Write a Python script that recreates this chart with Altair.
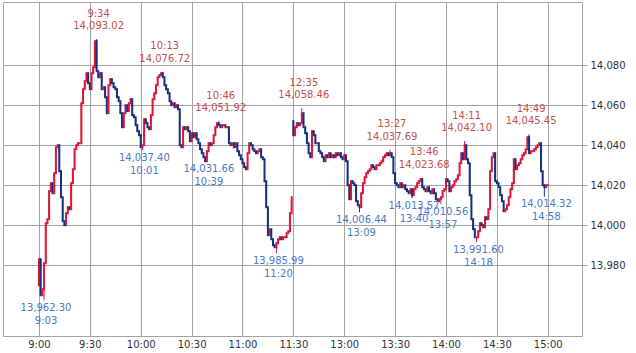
import altair as alt
import pandas as pd

# ---- data (1-minute closes; morning 9:00-11:29, afternoon 12:30-15:00) ----
am_first_open = 13970
am_close = [
    13983, 13965, 13968, 13981, 14001, 14003, 14017, 14021, 14016, 14026,
    14039, 14040, 14027, 14014, 14002, 14000, 14006, 14009, 14008, 14021,
    14028, 14038, 14040, 14041, 14041, 14061, 14068, 14072, 14076, 14071,
    14068, 14076, 14079, 14092, 14077, 14074, 14076, 14068, 14069, 14064,
    14056, 14070, 14073, 14071, 14069, 14068, 14064, 14062, 14056, 14049,
    14056, 14060, 14057, 14061, 14063, 14055, 14054, 14050, 14047, 14045,
    14039, 14040, 14053, 14051, 14049, 14048, 14055, 14063, 14066, 14070,
    14074, 14075, 14076, 14074, 14070, 14068, 14066, 14062, 14060, 14061,
    14059, 14060, 14058, 14040, 14039, 14049, 14048, 14049, 14047, 14042,
    14046, 14044, 14046, 14043, 14041, 14038, 14036, 14034, 14032, 14037,
    14041, 14040, 14041, 14045, 14049, 14051, 14050, 14049, 14050, 14050,
    14049, 14049, 14041, 14040, 14041, 14039, 14041, 14037, 14035, 14033,
    14031, 14029, 14028, 14036, 14041, 14040, 14038, 14037, 14036, 14037,
    14038, 14034, 14033, 14022, 14009, 13995, 13998, 13993, 13990, 13989,
    13991, 13993, 13994, 13993, 13994, 13994, 13996, 13997, 14006, 14014,
]
pm_first_open = 14052
pm_close = [
    14045, 14049, 14051, 14050, 14051, 14056, 14049, 14046, 14041, 14036,
    14034, 14047, 14045, 14041, 14041, 14037, 14036, 14034, 14032, 14035,
    14034, 14036, 14034, 14035, 14034, 14036, 14035, 14036, 14034, 14033,
    14035, 14032, 14020, 14013, 14022, 14021, 14020, 14012, 14010, 14009,
    14016, 14021, 14024, 14026, 14027, 14028, 14030, 14029, 14028, 14030,
    14030, 14031, 14032, 14034, 14035, 14036, 14035, 14036, 14034, 14026,
    14021, 14020, 14019, 14021, 14019, 14020, 14018, 14017, 14016, 14018,
    14015, 14018, 14019, 14021, 14022, 14023, 14019, 14018, 14017, 14019,
    14017, 14016, 14018, 14016, 14013, 14012, 14013, 14014, 14017, 14018,
    14023, 14022, 14017, 14019, 14020, 14022, 14023, 14025, 14031, 14036,
    14033, 14040, 14033, 14031, 14015, 14003, 13998, 13994, 13994, 13997,
    14001, 14000, 13999, 14004, 14003, 14008, 14027, 14034, 14036, 14022,
    14021, 14019, 14015, 14012, 14007, 14008, 14010, 14014, 14018, 14021,
    14033, 14028, 14030, 14031, 14033, 14035, 14036, 14038, 14044, 14036,
    14037, 14037, 14038, 14039, 14040, 14041, 14027, 14020, 14019, 14020,
    14020,
]

hi_time = ["9:34", "10:13", "10:46", "12:35", "13:27", "13:46", "14:11", "14:49"]
hi_value = [14093.02, 14076.72, 14051.92, 14058.46, 14037.69, 14023.68, 14042.10, 14045.45]
hi_minute = [34, 73, 106, 155, 207, 226, 251, 289]

lo_time = ["9:03", "10:01", "10:39", "11:20", "13:09", "13:40", "13:57", "14:18", "14:58"]
lo_value = [13962.30, 14037.40, 14031.66, 13985.99, 14006.44, 14013.57, 14010.56, 13991.60, 14014.32]
lo_minute = [3, 61, 99, 140, 189, 220, 237, 258, 298]

x_ticks = [0, 30, 60, 90, 120, 150, 180, 210, 240, 270, 300]
y_ticks = [13980, 14000, 14020, 14040, 14060, 14080]

RED = "#dc143c"
NAVY = "#142f7c"
RED_TXT = "#c4504c"
BLUE_TXT = "#4a78c6"
GRID = "#a3a3a3"
FONT = "DejaVu Sans"

# ---- build candle table ----
rows = []


def add_session(first_open, closes, start):
    prev = first_open
    for i, c in enumerate(closes):
        rows.append({"m": start + i, "open": prev, "close": c,
                     "high": max(prev, c), "low": min(prev, c),
                     "dir": "up" if c >= prev else "down"})
        prev = c


add_session(am_first_open, am_close, 0)
add_session(pm_first_open, pm_close, 150)
df = pd.DataFrame(rows).set_index("m")
for m, v in zip(hi_minute, hi_value):
    df.loc[m, "high"] = max(df.loc[m, "high"], v)
for m, v in zip(lo_minute, lo_value):
    df.loc[m, "low"] = min(df.loc[m, "low"], v)
df = df.reset_index()

hi_df = pd.DataFrame({"m": hi_minute, "v": hi_value, "t": hi_time,
                      "lab": [f"{v:,.2f}" for v in hi_value]})
lo_df = pd.DataFrame({"m": lo_minute, "v": lo_value, "t": lo_time,
                      "lab": [f"{v:,.2f}" for v in lo_value]})

T = "(datum.value <= 150 ? 540 + datum.value : 600 + datum.value)"
label_expr = f"floor({T}/60) + ':' + ({T} % 60 < 10 ? '0' : '') + ({T} % 60)"

xscale = alt.Scale(domain=[-21.2, 320.2], nice=False, zero=False)
yscale = alt.Scale(domain=[13944.6, 14111.6], nice=False, zero=False)

x_axis = alt.Axis(values=x_ticks, labelExpr=label_expr, title=None, grid=True,
                  gridColor=GRID, gridOpacity=1, ticks=False, domain=False,
                  labelFont=FONT, labelFontSize=10, labelColor="#333333",
                  labelPadding=3, labelOverlap=False, labelFlush=False)
y_axis = alt.Axis(orient="right", values=y_ticks, format=",d", title=None,
                  grid=True, gridColor=GRID, gridOpacity=1, ticks=True,
                  tickSize=5, tickColor=GRID, domain=False, labelFont=FONT,
                  labelFontSize=10, labelColor="#333333", labelPadding=3,
                  labelOverlap=False, labelFlush=False)

color = alt.Color("dir:N", scale=alt.Scale(domain=["up", "down"], range=[RED, NAVY]),
                  legend=None)

base = alt.Chart(df)
wick = base.mark_rule(strokeWidth=1).encode(
    x=alt.X("m:Q", scale=xscale, axis=x_axis),
    y=alt.Y("low:Q", scale=yscale, axis=y_axis),
    y2="high:Q",
    color=color,
)
body = base.mark_rule(strokeWidth=2, strokeCap="square").encode(
    x=alt.X("m:Q", scale=xscale),
    y=alt.Y("open:Q", scale=yscale),
    y2="close:Q",
    color=color,
)


def txt(data, field, dy, col):
    return alt.Chart(data).mark_text(font=FONT, fontSize=10, color=col, dy=dy, dx=2,
                                     baseline="middle", align="center").encode(
        x=alt.X("m:Q", scale=xscale),
        y=alt.Y("v:Q", scale=yscale),
        text=f"{field}:N",
    )


chart = alt.layer(
    wick, body,
    txt(hi_df, "lab", -13, RED_TXT), txt(hi_df, "t", -25.5, RED_TXT),
    txt(lo_df, "lab", 7.5, BLUE_TXT), txt(lo_df, "t", 20.5, BLUE_TXT),
).properties(
    width=579, height=334,
    padding={"left": 3, "top": 2, "right": 54, "bottom": 17},
    autosize=alt.AutoSizeParams(type="none"),
    background="white",
).configure_view(stroke=GRID, strokeWidth=1)

chart.save("out.html", embed_options={"renderer": "svg", "actions": False})
